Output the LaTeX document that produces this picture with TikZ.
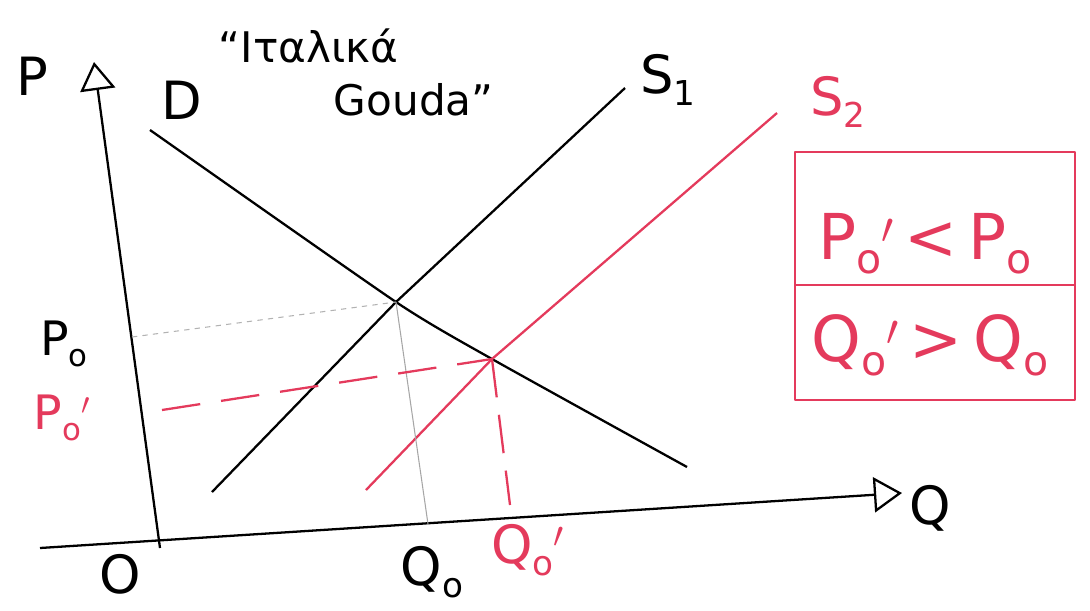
\documentclass[tikz,border=0pt]{standalone}
\usepackage{xcolor}
\usepackage{fontspec}
\setmainfont{DejaVu Sans}
\usepackage{tikz}
\usetikzlibrary{arrows.meta}

\definecolor{marker}{RGB}{228,58,92}
\newcommand{\low}[1]{\raisebox{-0.4ex}{\scalebox{0.65}{#1}}}

\begin{document}
\begin{tikzpicture}[x=0.02cm,y=-0.02cm,line width=1.3pt,line join=round,
	big/.style={font=\fontsize{30}{34}\selectfont},
	small/.style={font=\fontsize{27}{30}\selectfont},
	boxtext/.style={font=\fontsize{36}{40}\selectfont,text=marker},
	axis/.style={-{Triangle[open,length=16pt,width=20pt,line width=1.3pt]}}]
	\useasboundingbox (0,0) rectangle (1090,610);
			
			\coordinate (ybot) at (160,548);
			\coordinate (ytop) at (94,62);
			\coordinate (xl) at (40,548);
			\coordinate (xr) at (902,493);
			\coordinate (d1) at (150,130);
			\coordinate (d2) at (687,467);
			\coordinate (sa1) at (212,492);
			\coordinate (sa2) at (625,88);
			\coordinate (sb1) at (366,490);
			\coordinate (sb2) at (777,113);
			\coordinate (e0) at (396,302);
			\coordinate (e1) at (492,359);
			\coordinate (p0) at (132,337);
			\coordinate (p1) at (162,410);
			\coordinate (q0) at (428,524);
			\coordinate (q1) at (510,505);
			
			\node[big] (P) at (32,76) {P};
			\node[big] (Q) at (930,508) {Q};
			\node[big] (O) at (120,574) {O};
			\node[big] (D) at (182,100) {D};
			\node[big] (S1) at (668,80) {S\low{1}};
			\node[big,text=marker] (S2) at (838,102) {S\low{2}};
			\node[small] (P0) at (64,344) {P\low{o}};
			\node[small,text=marker] (P1) at (62,418) {P\low{o}$'$};
			\node[big] (Q0) at (432,572) {Q\low{o}};
			\node[big,text=marker] (Q1) at (528,550) {Q\low{o}$'$};
			\node[font=\fontsize{24}{30}\selectfont,align=left,anchor=north west] (note) at (212,22) {``Ιταλικά\\\hspace*{2.3cm}Gouda''};
			
			\draw[axis] (ybot) -- (ytop);
			\draw[axis] (xl) -- (xr);
			\draw plot[smooth,tension=0.35] coordinates {(d1) (e0) (e1) (d2)};
			\draw (sa1) -- (e0) -- (sa2);
			\draw[marker] (sb1) -- (e1) -- (sb2);
			
			\draw[gray!60,line width=0.6pt,dashed] (p0) -- (e0);
			\draw[gray!70,line width=0.6pt] (e0) -- (q0);
			\draw[marker,dashed,dash pattern=on 22pt off 12pt] (p1) -- (e1);
			\draw[marker,dashed,dash pattern=on 22pt off 10pt] (e1) -- (q1);
			
			% comparison box
			\draw[marker,line width=1.6pt] (795,152) rectangle (1075,400);
			\draw[marker,line width=1.6pt] (795,285) -- (1075,285);
			\node[boxtext] (cmpP) at (925,244) {P\low{o}$'$\,<\,P\low{o}};
			\node[boxtext] (cmpQ) at (930,345) {Q\low{o}$'$\,>\,Q\low{o}};
			
		\end{tikzpicture}
\end{document}
